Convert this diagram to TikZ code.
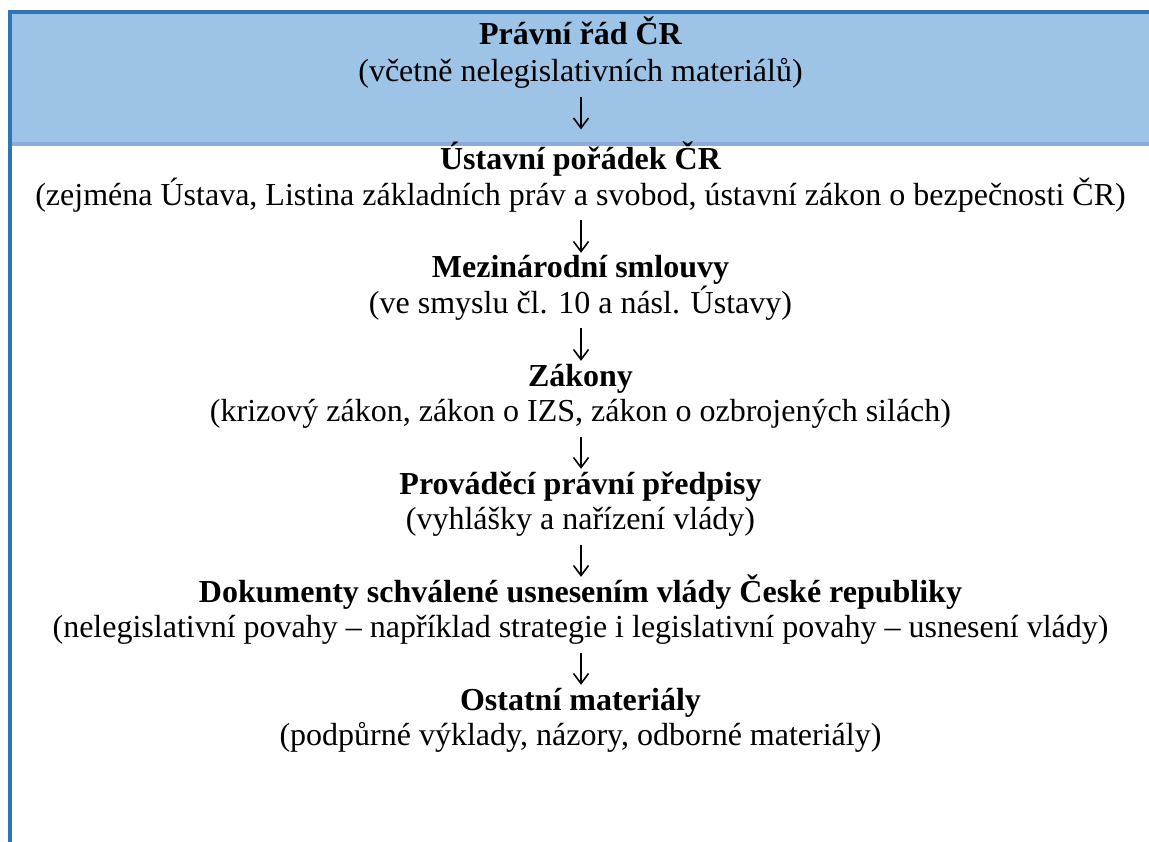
\documentclass[tikz,border=0pt]{standalone}
\usepackage{fontspec}
\setmainfont{Liberation Serif}
\definecolor{darkblue}{HTML}{2E75B6}
\definecolor{lightblue}{HTML}{9DC3E6}
\definecolor{lav}{HTML}{8EAADB}
\begin{document}
\begin{tikzpicture}[x=1pt,y=-1pt,
  txt/.style={inner sep=0pt,outer sep=0pt,anchor=base,font=\fontsize{32}{38}\selectfont},
  ttl/.style={txt,font=\fontsize{32}{38}\selectfont\bfseries},
  downarrow/.style={line width=1.6pt,line join=miter,line cap=butt}]
\useasboundingbox (0,0) rectangle (1149,842);
\fill[lightblue] (12,14) rectangle (1149,142);
\fill[lav] (12,142) rectangle (1149,146);
\fill[darkblue] (8,10) rectangle (1149,14);
\fill[darkblue] (8,10) rectangle (12,842);
\def\cx{580.5}
\node[ttl] (t1) at (\cx,45) {Právní řád ČR};
\node[txt] (s1) at (\cx,82) {(včetně nelegislativních materiálů)};
\foreach \i/\b in {2/170,3/278,4/386,5/494,6/602,7/710}{
  \coordinate (base\i) at (\cx,\b);
}
\node[ttl] (t2) at (base2) {Ústavní pořádek ČR};
\node[txt] (s2) at ([yshift=-35.5pt]base2) {(zejména Ústava, Listina základních práv a svobod, ústavní zákon o bezpečnosti ČR)};
\node[ttl] (t3) at (base3) {Mezinárodní smlouvy};
\node[txt] (s3) at ([yshift=-35.5pt]base3) {(ve smyslu čl. 10 a násl. Ústavy)};
\node[ttl] (t4) at (base4) {Zákony};
\node[txt] (s4) at ([yshift=-35.5pt]base4) {(krizový zákon, zákon o IZS, zákon o ozbrojených silách)};
\node[ttl] (t5) at (base5) {Prováděcí právní předpisy};
\node[txt] (s5) at ([yshift=-35.5pt]base5) {(vyhlášky a nařízení vlády)};
\node[ttl] (t6) at (base6) {Dokumenty schválené usnesením vlády České republiky};
\node[txt] (s6) at ([yshift=-35.5pt]base6) {(nelegislativní povahy – například strategie i legislativní povahy – usnesení vlády)};
\node[ttl] (t7) at (base7) {Ostatní materiály};
\node[txt] (s7) at ([yshift=-35.5pt]base7) {(podpůrné výklady, názory, odborné materiály)};
\foreach \i in {1,...,6}{
  \coordinate (at\i) at ([xshift=0.5pt,yshift=-15pt]s\i.base);
  \coordinate (ab\i) at ([xshift=0.5pt,yshift=-46pt]s\i.base);
  \draw[downarrow] (at\i) -- (ab\i);
  \draw[downarrow] ([xshift=-7.5pt,yshift=10pt]ab\i) -- (ab\i) -- ([xshift=7.5pt,yshift=10pt]ab\i);
}
\end{tikzpicture}
\end{document}
